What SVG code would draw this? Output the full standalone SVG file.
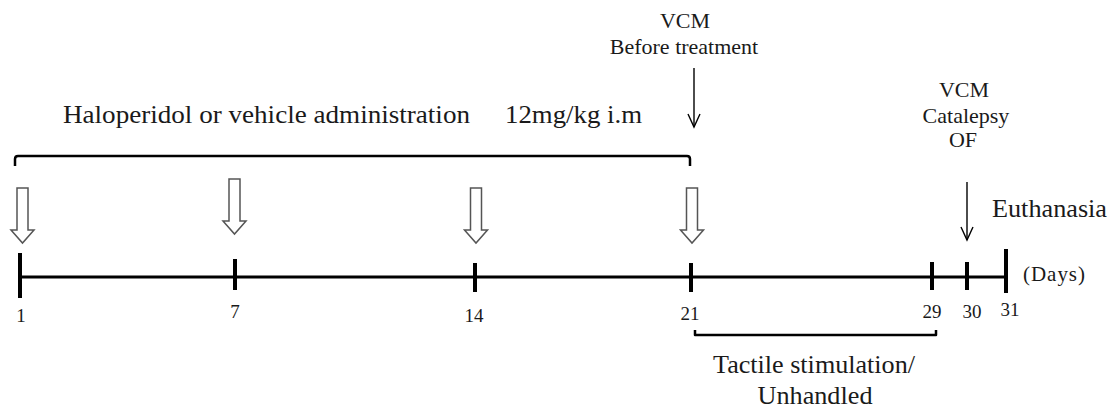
<svg xmlns="http://www.w3.org/2000/svg" width="1115" height="408" viewBox="0 0 1115 408">
<style>
.big{font-size:25px}
.mid{font-size:22px}
.num{font-size:19px;text-anchor:middle}
.days{font-size:21px}
.ctr{text-anchor:middle}
.axis{stroke:#000;stroke-width:3;fill:none}
.tick{stroke:#000;stroke-width:4;fill:none}
.brk{stroke:#000;stroke-width:2.5;fill:none;stroke-linejoin:round}
.thin{stroke:#000;stroke-width:1.4;fill:none}
.hollow{fill:#fff;stroke:#555;stroke-width:1.5;stroke-linejoin:miter}
</style>
<defs>
<path id="harrow" d="M-5.5,0 H5.5 V42 H11.5 L0,55 L-11.5,42 H-5.5 Z"/>
</defs>
<rect width="1115" height="408" fill="#fff"/>

<g font-family="Liberation Serif, Times New Roman, DejaVu Serif, serif" fill="#1a1a1a">
<g id="timeline">
<line class="axis" x1="20" y1="277" x2="1006" y2="277"/>
<line class="tick" x1="20" y1="253" x2="20" y2="298"/>
<line class="tick" x1="235" y1="259" x2="235" y2="290"/>
<line class="tick" x1="475" y1="263" x2="475" y2="292"/>
<line class="tick" x1="691" y1="263" x2="691" y2="292"/>
<line class="tick" x1="932" y1="262" x2="932" y2="290"/>
<line class="tick" x1="967" y1="262" x2="967" y2="290"/>
<line class="tick" x1="1006" y1="249" x2="1006" y2="293"/>
</g>

<g id="day-labels">
<text class="num" x="21" y="322">1</text>
<text class="num" x="235" y="318">7</text>
<text class="num" x="474" y="322">14</text>
<text class="num" x="690" y="320">21</text>
<text class="num" x="932" y="318">29</text>
<text class="num" x="972" y="318">30</text>
<text class="num" x="1010" y="316">31</text>
<text class="days" x="1023" y="281" textLength="62">(Days)</text>
</g>

<g id="administration">
<path class="brk" d="M15,166 V159 Q15,156 18,156 H687 Q690,156 690,159 V166"/>
<text class="big" x="63" y="123" textLength="407" lengthAdjust="spacingAndGlyphs">Haloperidol or vehicle  administration</text>
<text class="big" x="505" y="123" textLength="137" lengthAdjust="spacingAndGlyphs">12mg/kg i.m</text>
</g>

<g id="vcm-before">
<text class="mid ctr" x="685" y="28">VCM</text>
<text class="mid ctr" x="684" y="54">Before treatment</text>
</g>

<g id="vcm-after">
<text class="mid ctr" x="964" y="97">VCM</text>
<text class="mid ctr" x="966" y="123">Catalepsy</text>
<text class="mid ctr" x="963" y="147">OF</text>
</g>

<g id="euthanasia">
<text class="big" x="992" y="217" textLength="115" lengthAdjust="spacingAndGlyphs">Euthanasia</text>
</g>

<g id="tactile">
<path class="brk" d="M695,330 V335 H936 V330"/>
<text class="big ctr" x="814" y="373" textLength="202" lengthAdjust="spacingAndGlyphs">Tactile stimulation/</text>
<text class="big ctr" x="815" y="404" textLength="115" lengthAdjust="spacingAndGlyphs">Unhandled</text>
</g>
</g>

<g id="connectors">
<use href="#harrow" class="hollow" x="22.5" y="188"/>
<use href="#harrow" class="hollow" x="234.5" y="179"/>
<use href="#harrow" class="hollow" x="476" y="188"/>
<use href="#harrow" class="hollow" x="692" y="188"/>
<g class="thin">
<line x1="694" y1="68" x2="694" y2="127"/>
<polyline points="688,114 694,127 700,114"/>
<line x1="967" y1="182" x2="967" y2="240"/>
<polyline points="961,227 967,240 973,227"/>
</g>
</g>
</svg>
